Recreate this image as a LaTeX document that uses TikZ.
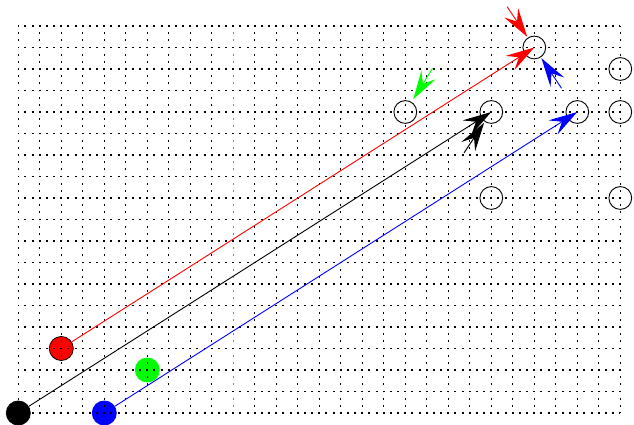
\documentclass[tikz,border=0pt]{standalone}
\usetikzlibrary{arrows.meta,calc}
\begin{document}
\begin{tikzpicture}[x=0.5cm,y=0.5cm,
  gridl/.style={line width=0.7pt, dash pattern=on 1.3pt off 3.442pt, dash phase=0.65pt},
  stone/.style={circle, minimum size=0.56cm, inner sep=0pt, line width=0.5pt},
  pt/.style={circle, draw=black, minimum size=0.53cm, inner sep=0pt, line width=0.6pt},
  arr/.style={line width=0.6pt, -{Stealth[length=19pt,width=11pt,inset=7pt]}}
]
\useasboundingbox (-0.851,-0.558) rectangle (28.637,19.209);
% filled stones
\node[stone, fill=red, draw=black] (R) at (2,3) {};
\node[stone, fill=black, draw=black] (K) at (0,0) {};
\node[stone, fill=blue, draw=blue] (B) at (4,0) {};
\node[stone, fill=green, draw=green] (G) at (6,2) {};
% grid
\foreach \x in {0,...,9} \draw[gridl] (\x,0) -- (\x,18);
\foreach \x in {11,...,28} \draw[gridl] (\x,0) -- (\x,18);
\draw[gridl, red!70] (10,0) -- (10,18);
\foreach \y in {0,...,18} \draw[gridl] (0,\y) -- (28,\y);
% open points
\node[pt] (P1) at (24,17) {};
\node[pt] (P2) at (28,16) {};
\node[pt] (P3) at (18,14) {};
\node[pt] (P4) at (22,14) {};
\node[pt] (P5) at (26,14) {};
\node[pt] (P6) at (28,14) {};
\node[pt] (P7) at (22,10) {};
\node[pt] (P8) at (28,10) {};
% long arrows
\draw[arr, red] (R) -- (P1.center);
\draw[arr, black] (K) -- (P4.center);
\draw[arr, blue] (B) -- (P5.center);
% short arrows
\coordinate (rs) at ($(P1)+(123.7:2.28)$);
\coordinate (re) at ($(P1)+(123.7:0.6)$);
\coordinate (bs) at ($(P1)+(-56.3:2.28)$);
\coordinate (be) at ($(P1)+(-56.3:0.6)$);
\coordinate (gs) at ($(P3)+(58:2.4)$);
\coordinate (ge) at ($(P3)+(58:0.7)$);
\coordinate (ks) at ($(P4)+(236.3:2.28)$);
\coordinate (ke) at ($(P4)+(236.3:0.6)$);
\draw[arr, red] (rs) -- (re);
\draw[arr, blue] (bs) -- (be);
\draw[arr, green] (gs) -- (ge);
\draw[arr, black] (ks) -- (ke);
\end{tikzpicture}
\end{document}
